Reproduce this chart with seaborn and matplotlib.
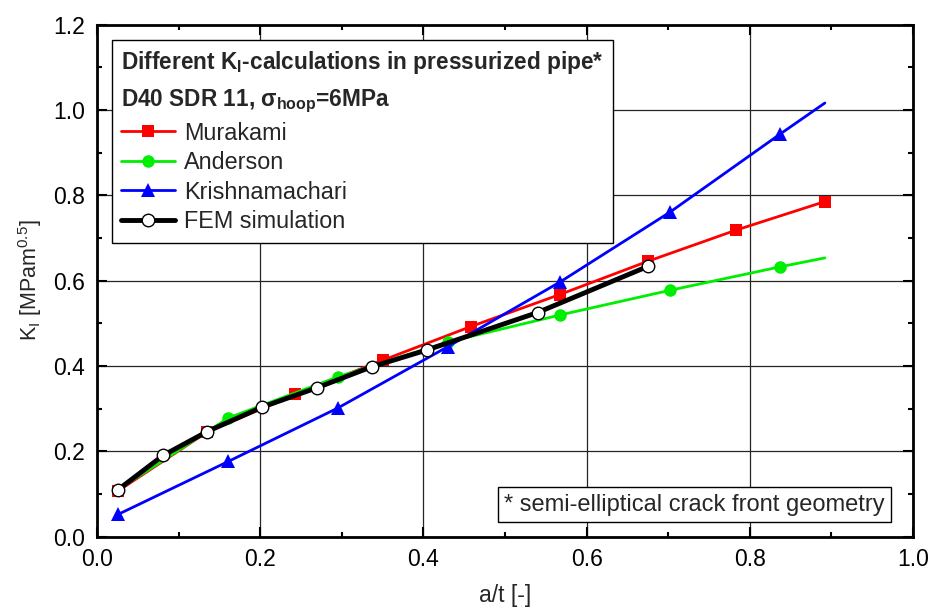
import seaborn as sns
import matplotlib.pyplot as plt
from matplotlib.ticker import MultipleLocator

# data (line points, marker flag per point)
murakami_x = [0.026, 0.135, 0.243, 0.350, 0.458, 0.567, 0.675, 0.783, 0.892]
murakami_y = [0.107, 0.245, 0.333, 0.413, 0.492, 0.567, 0.645, 0.718, 0.785]
murakami_mark = [1, 1, 1, 1, 1, 1, 1, 1, 1]

anderson_x = [0.026, 0.161, 0.295, 0.430, 0.567, 0.702, 0.837, 0.892]
anderson_y = [0.110, 0.278, 0.374, 0.456, 0.519, 0.577, 0.632, 0.653]
anderson_mark = [1, 1, 1, 1, 1, 1, 1, 0]

krishna_x = [0.026, 0.161, 0.295, 0.430, 0.567, 0.702, 0.837, 0.892]
krishna_y = [0.052, 0.176, 0.301, 0.445, 0.596, 0.760, 0.943, 1.016]
krishna_mark = [1, 1, 1, 1, 1, 1, 1, 0]

fem_x = [0.026, 0.081, 0.135, 0.202, 0.270, 0.337, 0.404, 0.540, 0.675]
fem_y = [0.110, 0.190, 0.246, 0.303, 0.349, 0.398, 0.437, 0.525, 0.633]
fem_mark = [1, 1, 1, 1, 1, 1, 1, 1, 1]

sns.set_theme(style="ticks")
plt.rcParams['font.family'] = ['Liberation Sans', 'DejaVu Sans']
plt.rcParams['mathtext.fontset'] = 'custom'
plt.rcParams['mathtext.rm'] = 'Liberation Sans'
plt.rcParams['mathtext.it'] = 'Liberation Sans'
plt.rcParams['mathtext.bf'] = 'Liberation Sans:bold'

fig = plt.figure(figsize=(9.3, 6.11), dpi=100)
ax = fig.add_axes([0.1043, 0.1219, 0.8774, 0.8380])

series = [
    ("Murakami", murakami_x, murakami_y, murakami_mark, '#ff0000', 's', 8.5, 2.0, 'none', '#ff0000'),
    ("Anderson", anderson_x, anderson_y, anderson_mark, '#00ee00', 'o', 9, 2.0, 'none', '#00ee00'),
    ("Krishnamachari", krishna_x, krishna_y, krishna_mark, '#0000ff', '^', 10, 2.0, 'none', '#0000ff'),
    ("FEM simulation", fem_x, fem_y, fem_mark, 'black', 'o', 9, 3.5, 'black', 'white'),
]

for name, xs, ys, mark, col, m, ms, lw, mec, mfc in series:
    every = [i for i, f in enumerate(mark) if f]
    sns.lineplot(x=xs, y=ys, ax=ax, color=col, lw=lw, marker=m, markersize=ms,
                 markevery=every, markeredgecolor=mec, markerfacecolor=mfc,
                 markeredgewidth=1.0 if mec != 'none' else 0, label=name,
                 sort=False, estimator=None)

ax.set_xlim(0, 1.0)
ax.set_ylim(0, 1.2)
ax.xaxis.set_major_locator(MultipleLocator(0.2))
ax.xaxis.set_minor_locator(MultipleLocator(0.1))
ax.yaxis.set_major_locator(MultipleLocator(0.2))
ax.yaxis.set_minor_locator(MultipleLocator(0.1))
ax.xaxis.set_major_formatter(plt.FormatStrFormatter('%.1f'))
ax.yaxis.set_major_formatter(plt.FormatStrFormatter('%.1f'))
ax.grid(True, which='major', color='0.15', lw=0.9)
ax.set_axisbelow(True)
ax.tick_params(which='both', direction='in', top=True, right=True, width=1.5,
               colors='black', labelsize=16.5, pad=8.5)
ax.tick_params(which='major', length=7)
ax.tick_params(which='minor', length=3.6)
for sp in ax.spines.values():
    sp.set_linewidth(2.0)
    sp.set_color('black')

ax.set_xlabel('a/t [-]', fontsize=16.5, labelpad=9)
ax.set_ylabel('K$_\\mathrm{I}$ [MPam$^{0.5}$]', fontsize=15.5, labelpad=7)

title = ('Different K$_\\mathbf{I}$-calculations in pressurized pipe*\n'
         'D40 SDR 11, σ$_{\\mathbf{hoop}}$=6MPa')
leg = ax.legend(loc='upper left', bbox_to_anchor=(0.018, 0.97), borderaxespad=0,
                title=title, title_fontproperties={'weight': 'bold', 'size': 16.3},
                alignment='left', fontsize=16.8, frameon=True, fancybox=False,
                framealpha=1, edgecolor='black', handlelength=2.3,
                labelspacing=0.28, handletextpad=0.4, borderpad=0.4)
leg.get_title().set_linespacing(1.62)
leg.get_frame().set_linewidth(1.0)

ax.text(0.732, 0.0625, '* semi-elliptical crack front geometry', transform=ax.transAxes,
        ha='center', va='center', fontsize=17,
        bbox=dict(boxstyle='square,pad=0.27', facecolor='white', edgecolor='black', lw=1.0))

plt.savefig('out.png', dpi=100)
plt.close()
